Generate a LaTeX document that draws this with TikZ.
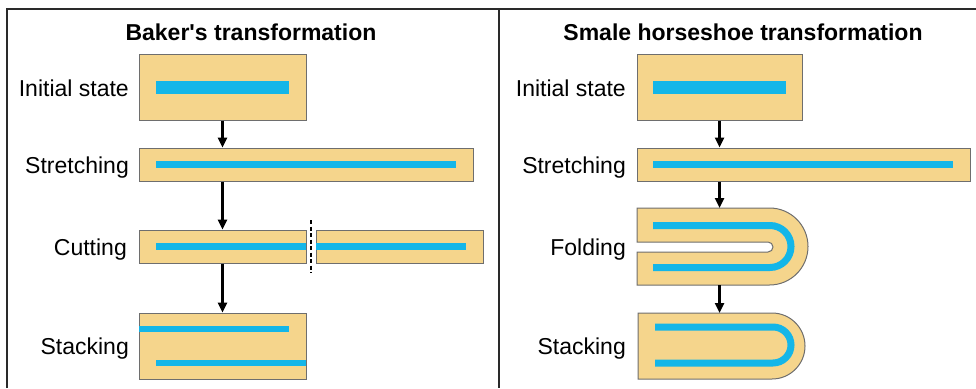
\documentclass[tikz,border=0pt]{standalone}
\usepackage{fontspec}
\newfontfamily\labelfont{Liberation Sans}
\usetikzlibrary{arrows.meta}
\definecolor{tan}{HTML}{F5D58C}
\definecolor{barblue}{HTML}{14B6E8}
\definecolor{edge}{HTML}{6E6E6E}
\definecolor{frame}{HTML}{2A2A2A}
\tikzset{
  panelbox/.style={draw=edge, line width=1pt, fill=tan, inner sep=0pt},
  bar/.style={fill=barblue, draw=none},
  barline/.style={draw=barblue, line width=7pt},
  steparrow/.style={line width=2.4pt, -{Triangle[length=10pt,width=9pt]}},
  lbl/.style={anchor=base east, inner sep=0pt, font=\labelfont\fontsize{23}{27}\selectfont},
  ttl/.style={anchor=base, inner sep=0pt, font=\labelfont\fontsize{23}{27}\selectfont\bfseries},
  framerule/.style={draw=frame, line width=2pt}
}
\begin{document}
\begin{tikzpicture}[x=1pt,y=-1pt]
\useasboundingbox (0,0) rectangle (976,388);
% frame
\draw[framerule] (7,388) -- (7,9) -- (976,9);
\draw[framerule] (499,9) -- (499,388);
% titles
\node[ttl] (t1) at (251,40) {Baker's transformation};
\node[ttl] (t2) at (743,40) {Smale horseshoe transformation};

% ---------- Baker's ----------
\node[panelbox, minimum width=167pt, minimum height=66pt] (bi) at (222.5,87) {};
\fill[bar] (156,81) rectangle (289,94);
\node[panelbox, minimum width=334pt, minimum height=33pt] (bs) at (306,164.5) {};
\fill[bar] (156,161) rectangle (456,168);
\node[panelbox, minimum width=167pt, minimum height=33pt] (bc1) at (222.5,246.5) {};
\fill[bar] (156,243) rectangle (306,250);
\node[panelbox, minimum width=167pt, minimum height=33pt] (bc2) at (399.5,246.5) {};
\fill[bar] (316,243) rectangle (466,250);
\coordinate (cuttop) at (311,220);
\coordinate (cutbot) at (311,273);
\draw[line width=2pt, dash pattern=on 4pt off 2.5pt] (cuttop) -- (cutbot);
\node[panelbox, minimum width=167pt, minimum height=66pt] (bk) at (222.5,346) {};
\fill[bar] (139,326) rectangle (289,332);
\fill[bar] (156,359.5) rectangle (306,366);

\draw[steparrow] (bi.south) -- (bs.north -| bi.south);
\draw[steparrow] (bs.south -| bi.south) -- (bc1.north);
\draw[steparrow] (bc1.south) -- (bk.north);

\node[lbl] (l1) at (129,96) {Initial state};
\node[lbl] (l2) at (129,173) {Stretching};
\node[lbl] (l3) at (127,255) {Cutting};
\node[lbl] (l4) at (129,354.5) {Stacking};

% ---------- Smale ----------
\node[panelbox, minimum width=165pt, minimum height=66pt] (si) at (719.5,87) {};
\fill[bar] (653,81) rectangle (786,94);
\node[panelbox, minimum width=333pt, minimum height=33pt] (ss) at (803.5,164.5) {};
\fill[bar] (653,161) rectangle (953,168);

% folding
\draw[panelbox] (637,208) -- (769.5,208) arc[start angle=-90, end angle=90, radius=38.5]
  -- (637,285) -- (637,252) -- (768,252) arc[start angle=90, end angle=-90, radius=5]
  -- (637,242) -- cycle;
\draw[barline] (653,225.5) -- (770,225.5) arc[start angle=-90, end angle=90, radius=21] -- (653,267.5);
\coordinate (ftop) at (719.5,208);
\coordinate (fbot) at (719.5,285);

% stacking
\draw[panelbox] (638,313) -- (772,313) arc[start angle=-90, end angle=90, radius=33]
  -- (638,379) -- cycle;
\draw[barline] (655,327) -- (773,327) arc[start angle=-90, end angle=90, radius=18] -- (655,363);
\coordinate (ktop) at (719.5,313);

\draw[steparrow] (si.south) -- (ss.north -| si.south);
\draw[steparrow] (ss.south -| si.south) -- (ftop);
\draw[steparrow] (fbot) -- (ktop);

\node[lbl] (r1) at (626,96) {Initial state};
\node[lbl] (r2) at (626,173) {Stretching};
\node[lbl] (r3) at (626,255) {Folding};
\node[lbl] (r4) at (626,354.5) {Stacking};
\end{tikzpicture}
\end{document}
